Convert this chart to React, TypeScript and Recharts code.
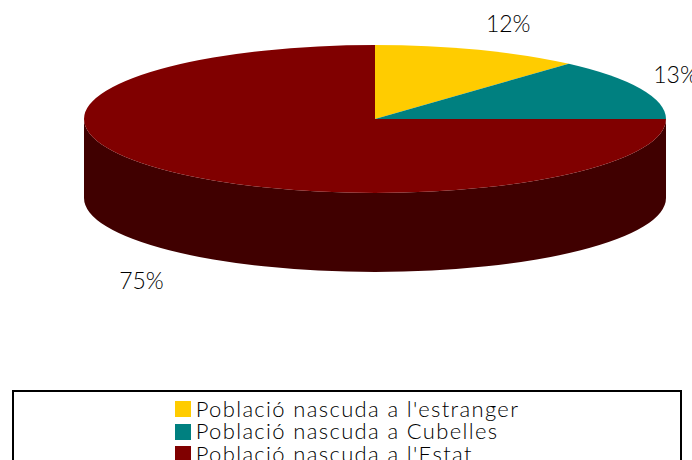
import React from "react";
import { PieChart, Pie, Cell, Legend } from "recharts";

const categories = ["Població nascuda a l'estranger", "Població nascuda a Cubelles", "Població nascuda a l'Estat"];
const values = [11.6, 13.4, 75];
const colors = ["#ffcc00", "#008080", "#800000"];
const sideColors = ["#806600", "#004040", "#400000"];
const tableData = categories.map((name, i) => ({ name, value: values[i], side: sideColors[i] }));

const labelNudgeX = [9, -5, -11];
const labelNudgeY = [5, 0, 7];

const FONT = "Lato, 'Open Sans', sans-serif";
const SQUASH = 74 / 291;
const DEPTH = 79;
const rad = (a: number) => (a * Math.PI) / 180;

function EllipseSector(props: any) {
  const { cx, cy, outerRadius: rx, startAngle, endAngle, fill, payload } = props;
  const ry = rx * SQUASH;
  const pt = (a: number, dy = 0) => [cx + rx * Math.cos(rad(a)), cy - ry * Math.sin(rad(a)) + dy];
  const [sx, sy] = pt(startAngle);
  const [ex, ey] = pt(endAngle);
  const large = Math.abs(startAngle - endAngle) > 180 ? 1 : 0;
  const top = `M${cx},${cy}L${sx},${sy}A${rx},${ry} 0 ${large} 1 ${ex},${ey}Z`;
  const from = Math.min(startAngle, 0);
  const to = Math.max(endAngle, -180);
  let wall = null;
  if (from > to) {
    const [ax, ay] = pt(from);
    const [bx, by] = pt(to);
    wall = (
      <path
        d={`M${ax},${ay}A${rx},${ry} 0 0 1 ${bx},${by}L${bx},${by + DEPTH}A${rx},${ry} 0 0 0 ${ax},${ay + DEPTH}Z`}
        fill={payload?.side ?? props.side}
      />
    );
  }
  return (
    <g>
      {wall}
      <path d={top} fill={fill} />
    </g>
  );
}

function renderLabel(props: any) {
  const { cx, cy, midAngle, outerRadius: rx, percent, index } = props;
  const ry = rx * SQUASH;
  const c = Math.cos(rad(midAngle));
  const s = Math.sin(rad(midAngle));
  const x = cx + (rx + 35) * c + 8 + labelNudgeX[index];
  const y = cy - 1 - (ry + 33) * s + (s < 0 ? DEPTH : 0) + labelNudgeY[index];
  return (
    <text x={x} y={y} textAnchor="middle" dominantBaseline="central" fontFamily={FONT} fontSize={23} fontWeight={300} fill="#000000">
      {`${Math.round(percent * 100)}%`}
    </text>
  );
}

function LegendBox({ payload }: any) {
  const items = categories.map((name) => (payload ?? []).find((p: any) => p.value === name)).filter(Boolean);
  return (
    <div style={{ border: "2px solid #000", boxSizing: "border-box", width: 670, height: 90, paddingTop: 6, display: "flex", flexDirection: "column", alignItems: "center", background: "#fff" }}>
      <div>
        {items.map((p: any) => (
          <div key={p.value} style={{ display: "flex", alignItems: "center", height: 22.5, fontFamily: FONT, fontWeight: 300, fontSize: 22, letterSpacing: 1.35, color: "#000", whiteSpace: "nowrap" }}>
            <span style={{ width: 16, height: 16, background: p.color, marginRight: 5, display: "inline-block" }} />
            <span style={{ position: "relative", top: -1 }}>{p.value}</span>
          </div>
        ))}
      </div>
    </div>
  );
}

export default function App() {
  return (
    <div style={{ position: "absolute", left: 0, top: 0, width: 692, height: 460, overflow: "hidden" }}>
      <PieChart width={692} height={460} margin={{ top: 0, right: 0, bottom: 0, left: 0 }}>
        <Pie
          data={tableData}
          dataKey="value"
          nameKey="name"
          cx={375}
          cy={119}
          outerRadius={291}
          startAngle={90}
          endAngle={-270}
          stroke="none"
          isAnimationActive={false}
          shape={EllipseSector}
          label={renderLabel}
          labelLine={false}
        >
          {tableData.map((d, i) => (
            <Cell key={d.name} fill={colors[i]} />
          ))}
        </Pie>
        <Legend
          content={<LegendBox />}
          layout="vertical"
          itemSorter={null}
          wrapperStyle={{ position: "absolute", left: 12, top: 390, width: 670, bottom: "auto" }}
        />
      </PieChart>
    </div>
  );
}
